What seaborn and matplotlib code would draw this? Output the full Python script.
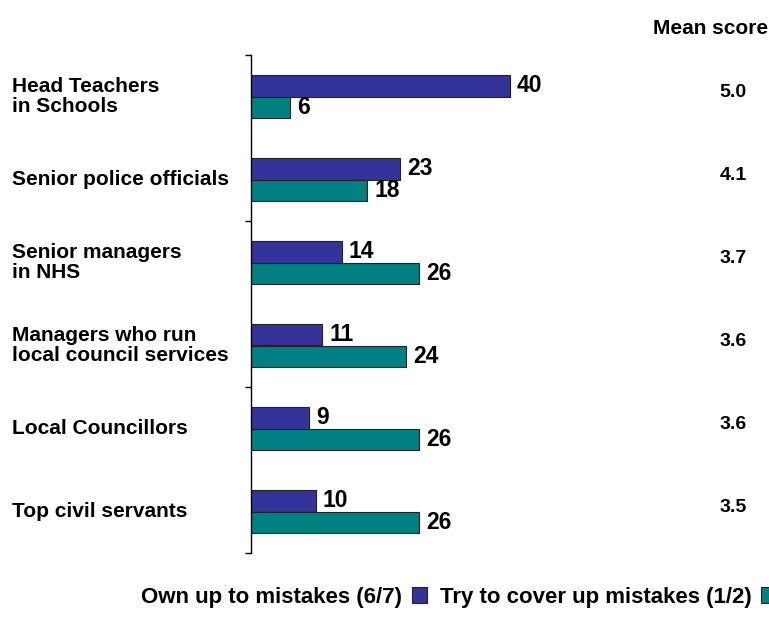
import matplotlib
matplotlib.use("Agg")
import matplotlib.pyplot as plt
import matplotlib.transforms as mtransforms
from matplotlib.patches import Patch
import seaborn as sns
import pandas as pd

categories = [
    "Head Teachers\nin Schools",
    "Senior police officials",
    "Senior managers\nin NHS",
    "Managers who run\nlocal council services",
    "Local Councillors",
    "Top civil servants",
]
own_up = [40, 23, 14, 11, 9, 10]
cover_up = [6, 18, 26, 24, 26, 26]
mean_scores = ["5.0", "4.1", "3.7", "3.6", "3.6", "3.5"]
series_names = ["Own up to mistakes (6/7)", "Try to cover up mistakes (1/2)"]
colors = ["#333399", "#008080"]

sns.set_theme(style="white")
plt.rcParams["font.family"] = ["Liberation Sans", "DejaVu Sans"]
plt.rcParams["font.weight"] = "bold"
plt.rcParams["text.color"] = "black"

df = pd.DataFrame({
    "category": categories * 2,
    "value": own_up + cover_up,
    "series": [series_names[0]] * len(categories) + [series_names[1]] * len(categories),
})

fig = plt.figure(figsize=(7.69, 6.37), dpi=100)
ax = fig.add_axes([251 / 769, 84 / 637, 323.5 / 769, 498 / 637])

sns.barplot(data=df, x="value", y="category", hue="series", orient="h",
            palette=colors, width=0.53, edgecolor="#222222", linewidth=0.8,
            saturation=1, ax=ax, legend=False)

ax.set_xlim(0, 50)
ax.set_ylim(len(categories) - 0.5, -0.5)
ax.set_xlabel("")
ax.set_ylabel("")
ax.set_xticks([])
for side in ["top", "right", "bottom"]:
    ax.spines[side].set_visible(False)
ax.spines["left"].set_color("black")
ax.spines["left"].set_linewidth(1)

# category labels left-aligned at the figure margin
ax.set_yticks(range(len(categories)))
ax.set_yticklabels([])
ax.tick_params(axis="y", which="major", length=0)
ax.set_yticks([-0.5, 1.5, 3.5, 5.5], minor=True)
ax.tick_params(axis="y", which="minor", length=4, width=1, color="black", left=True)

label_tf = mtransforms.blended_transform_factory(fig.transFigure, ax.transData)
for i, cat in enumerate(categories):
    ax.text(12 / 769, i, cat, transform=label_tf, ha="left", va="center",
            fontsize=15, fontweight="bold", linespacing=1.1, color="black")

# value labels at bar ends
for container in ax.containers:
    ax.bar_label(container, padding=5, fontsize=16.5, fontweight="bold",
                 color="black")

# mean score column
fig.text(768 / 769, 1 - 28 / 637, "Mean score", ha="right", va="center",
         fontsize=15, fontweight="bold", color="black")
for i, s in enumerate(mean_scores):
    ax.text(733 / 769, i - 0.05, s, transform=label_tf, ha="center", va="center",
            fontsize=14, fontweight="bold", color="black")

handles = [Patch(facecolor=c, edgecolor="#222222", linewidth=0.8) for c in colors]
fig.legend(handles, series_names, loc="center left",
           bbox_to_anchor=(132 / 769, 1 - 597 / 637), ncol=2, frameon=False,
           markerfirst=False, handlelength=0.7, handleheight=0.75,
           handletextpad=0.45, columnspacing=0.55, borderaxespad=0,
           prop={"size": 16, "weight": "bold"})

fig.savefig("out.png", dpi=100)
